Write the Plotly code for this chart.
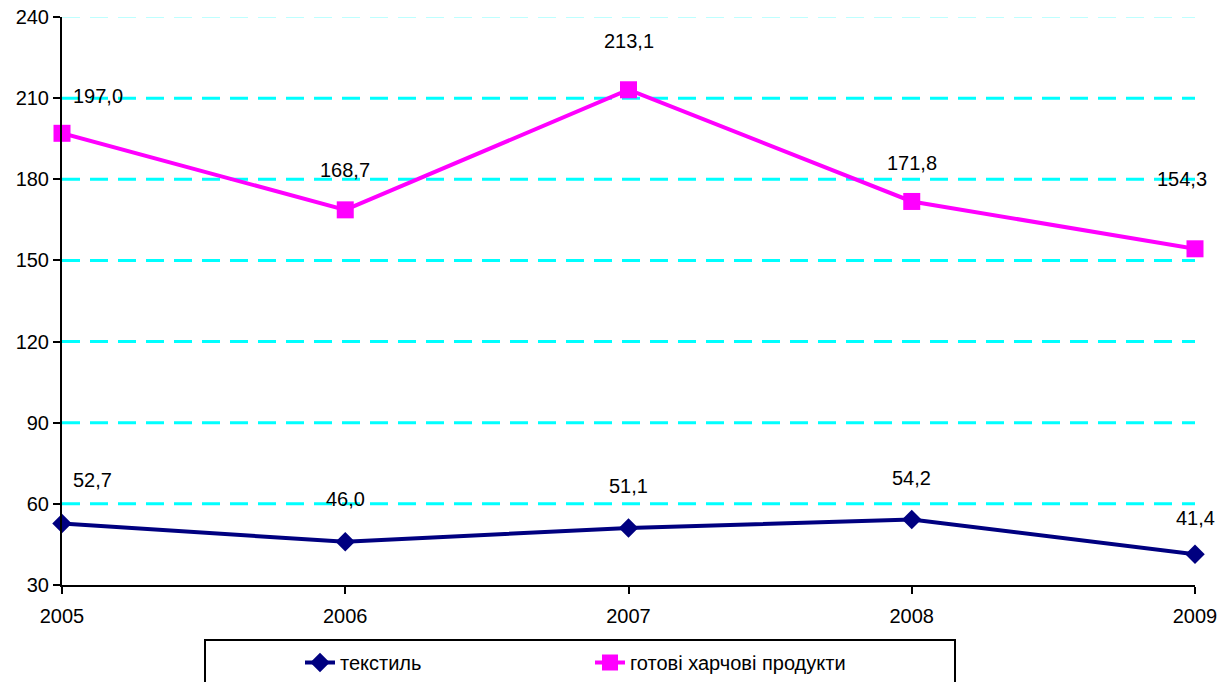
import plotly.graph_objects as go

years = [2005, 2006, 2007, 2008, 2009]
textile = [52.7, 46.0, 51.1, 54.2, 41.4]
food = [197.0, 168.7, 213.1, 171.8, 154.3]
y_ticks = [30, 60, 90, 120, 150, 180, 210, 240]
series_names = ["текстиль", "готові харчові продукти"]

def fmt(v):
    return f"{v:.1f}".replace(".", ",")

fig = go.Figure()

# dashed cyan gridlines
for t in y_ticks[1:]:
    top = t == y_ticks[-1]
    fig.add_shape(type="line", xref="paper", yref="y", x0=0, x1=1, y0=t, y1=t,
                  line=dict(color="#7FFFFF" if top else "#00FFFF", width=1 if top else 3,
                            dash="18px,10px"), layer="below")

fig.add_trace(go.Scatter(x=years, y=textile, name=series_names[0], mode="lines+markers",
                         line=dict(color="#000080", width=4),
                         marker=dict(symbol="diamond", size=15, color="#000080"),
                         cliponaxis=False))
fig.add_trace(go.Scatter(x=years, y=food, name=series_names[1], mode="lines+markers",
                         line=dict(color="#FF00FF", width=4),
                         marker=dict(symbol="square", size=17, color="#FF00FF"),
                         cliponaxis=False))

food_shift = [(36, 37), (0, 40), (0, 49), (0, 38), (-13, 70)]
tex_shift = [(30, 44), (0, 43), (0, 42), (0, 42), (0, 36)]
for i, yr in enumerate(years):
    dx, dy = food_shift[i]
    fig.add_annotation(x=yr, y=food[i], text=fmt(food[i]), showarrow=False,
                       xshift=dx, yshift=dy, font=dict(size=20, color="black"))
    dx, dy = tex_shift[i]
    fig.add_annotation(x=yr, y=textile[i], text=fmt(textile[i]), showarrow=False,
                       xshift=dx, yshift=dy, font=dict(size=20, color="black"))

# legend box (extends below image)
fig.add_shape(type="rect", xref="paper", yref="paper",
              x0=(205 - 62) / 1133, x1=(955 - 62) / 1133, y0=(585 - 700) / 568, y1=(585 - 640) / 568,
              line=dict(color="black", width=2), fillcolor="rgba(0,0,0,0)")

fig.update_layout(
    width=1228, height=682,
    margin=dict(l=62, r=33, t=17, b=97, autoexpand=False),
    paper_bgcolor="white", plot_bgcolor="white",
    font=dict(family="Liberation Sans, Arial, sans-serif", size=20, color="black"),
    showlegend=True,
    legend=dict(orientation="h", x=(300 - 62) / 1133, y=(585 - 643) / 568,
                xanchor="left", yanchor="top", entrywidth=245, entrywidthmode="pixels",
                font=dict(size=20), bgcolor="rgba(0,0,0,0)"),
    xaxis=dict(range=[2005, 2009], tickvals=years, ticktext=[str(y) for y in years],
               showgrid=False, zeroline=False, showline=True, linecolor="black", linewidth=2,
               ticks="outside", ticklen=7, tickwidth=2, tickcolor="black", ticklabelstandoff=5,
               automargin=False),
    yaxis=dict(range=[30, 240], tickvals=y_ticks, showgrid=False, zeroline=False,
               showline=True, linecolor="black", linewidth=2,
               ticks="outside", ticklen=7, tickwidth=2, tickcolor="black", automargin=False),
)

fig.write_html("out.html", config={"displayModeBar": False},
               post_script="document.body.style.margin='0';document.body.style.overflow='hidden';")
